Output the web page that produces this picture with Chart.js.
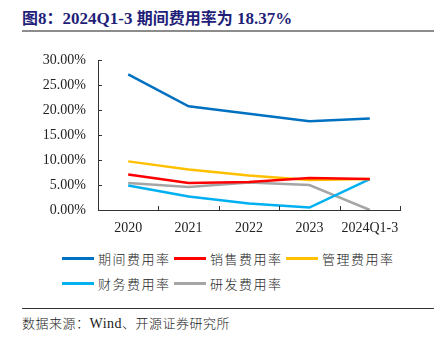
<!DOCTYPE html>
<html>
<head>
<meta charset="utf-8">
<script src="https://cdn.jsdelivr.net/npm/chart.js@4/dist/chart.umd.min.js"></script>
<style>
  body { margin: 0; width: 434px; height: 341px; background: #fff; position: relative; overflow: hidden; }
  #title { position: absolute; left: 22px; top: 5px; font: bold 17px "Liberation Serif", "Noto Sans CJK SC"; color: #1f1f7a; white-space: nowrap; }
  #title .cn { font-family: "Noto Sans CJK SC"; font-size: 16px; }
  #rule1 { position: absolute; left: 22px; top: 30px; width: 412px; height: 2px; background: #8c8c8c; }
  #wrap { position: absolute; left: 0; top: 40px; width: 434px; height: 200px; }
  #legend { position: absolute; left: 62px; top: 249px; width: 340px; display: flex; flex-wrap: wrap; row-gap: 7px; }
  .item { width: 112px; display: flex; align-items: center; font: 300 13px "Noto Sans CJK SC"; letter-spacing: 1.5px; color: #222; height: 18px; }
  .swatch { width: 32px; height: 3px; margin-right: 4px; }
  #rule2 { position: absolute; left: 22px; top: 308px; width: 412px; height: 1px; background: #333; }
  #source { position: absolute; left: 22px; top: 313px; font: 300 13px "Noto Sans CJK SC"; color: #222; letter-spacing: 0.5px; }
  #source .en { font-family: "Liberation Serif"; font-size: 14px; font-weight: 400; }
</style>
</head>
<body>
<div id="title"><span class="cn">图</span>8<span class="cn">：</span>2024Q1-3 <span class="cn">期间费用率为</span> 18.37%</div>
<div id="rule1"></div>
<div id="wrap"><canvas id="lineChart"></canvas></div>
<div id="legend"></div>
<div id="rule2"></div>
<div id="source">数据来源：<span class="en">Wind</span>、开源证券研究所</div>
<script>
const categories = ["2020", "2021", "2022", "2023", "2024Q1-3"];
const seriesNames = ["期间费用率", "销售费用率", "管理费用率", "财务费用率", "研发费用率"];
const periodRate = [27.2, 20.8, 19.3, 17.8, 18.37];
const salesRate = [7.1, 5.4, 5.6, 6.4, 6.2];
const adminRate = [9.75, 8.1, 6.9, 6.0, 6.2];
const financeRate = [4.9, 2.7, 1.3, 0.5, 6.2];
const rdRate = [5.4, 4.6, 5.5, 5.0, 0.0];
const yTicks = [0, 5, 10, 15, 20, 25, 30];
const colors = ["#0070c0", "#ff0000", "#ffc000", "#00b0f0", "#a5a5a5"];

const seriesValues = [periodRate, salesRate, adminRate, financeRate, rdRate];

// small inward ticks on both axes
const innerTicks = {
  id: "innerTicks",
  afterDraw(chart) {
    const ctx = chart.ctx;
    const x = chart.scales.x, y = chart.scales.y;
    const area = chart.chartArea;
    const step = x.getPixelForTick(1) - x.getPixelForTick(0);
    ctx.save();
    ctx.strokeStyle = "#333";
    ctx.lineWidth = 1;
    ctx.beginPath();
    for (let i = 0; i <= categories.length; i++) {
      const px = Math.round(x.getPixelForTick(0) - step / 2 + i * step) + 0.5;
      ctx.moveTo(px, area.bottom);
      ctx.lineTo(px, area.bottom - 4);
    }
    yTicks.forEach(v => {
      const py = Math.round(y.getPixelForValue(v)) + 0.5;
      ctx.moveTo(area.left, py);
      ctx.lineTo(area.left + 4, py);
    });
    ctx.stroke();
    ctx.restore();
  }
};

new Chart(document.getElementById("lineChart"), {
  type: "line",
  data: {
    labels: categories,
    datasets: seriesNames.map((name, i) => ({
      label: name,
      data: seriesValues[i],
      borderColor: colors[i],
      backgroundColor: colors[i],
      borderWidth: 2.5,
      pointRadius: 0,
      tension: 0,
    })),
  },
  options: {
    responsive: true,
    maintainAspectRatio: false,
    animation: false,
    layout: { padding: { left: 22, right: 34, top: 13, bottom: 0 } },
    plugins: { legend: { display: false }, tooltip: { enabled: false } },
    scales: {
      x: {
        offset: true,
        grid: { display: true, drawOnChartArea: false, drawTicks: false, offset: true },
        border: { color: "#333", width: 1 },
        ticks: { color: "#222", font: { family: "Liberation Serif", size: 14 }, padding: 10, maxRotation: 0 },
        afterFit(scale) { scale.height = 30; },
      },
      y: {
        min: 0,
        max: 30,
        grid: { display: true, drawOnChartArea: false, drawTicks: false },
        border: { color: "#333", width: 1 },
        ticks: {
          stepSize: 5,
          color: "#222",
          font: { family: "Liberation Serif", size: 14 },
          padding: 12,
          callback: v => v.toFixed(2) + "%",
        },
        afterFit(scale) { scale.width = 76; },
      },
    },
  },
  plugins: [innerTicks],
});

const legend = document.getElementById("legend");
seriesNames.forEach((name, i) => {
  const item = document.createElement("div");
  item.className = "item";
  item.innerHTML = '<span class="swatch" style="background:' + colors[i] + '"></span>' + name;
  legend.appendChild(item);
});
</script>
</body>
</html>
